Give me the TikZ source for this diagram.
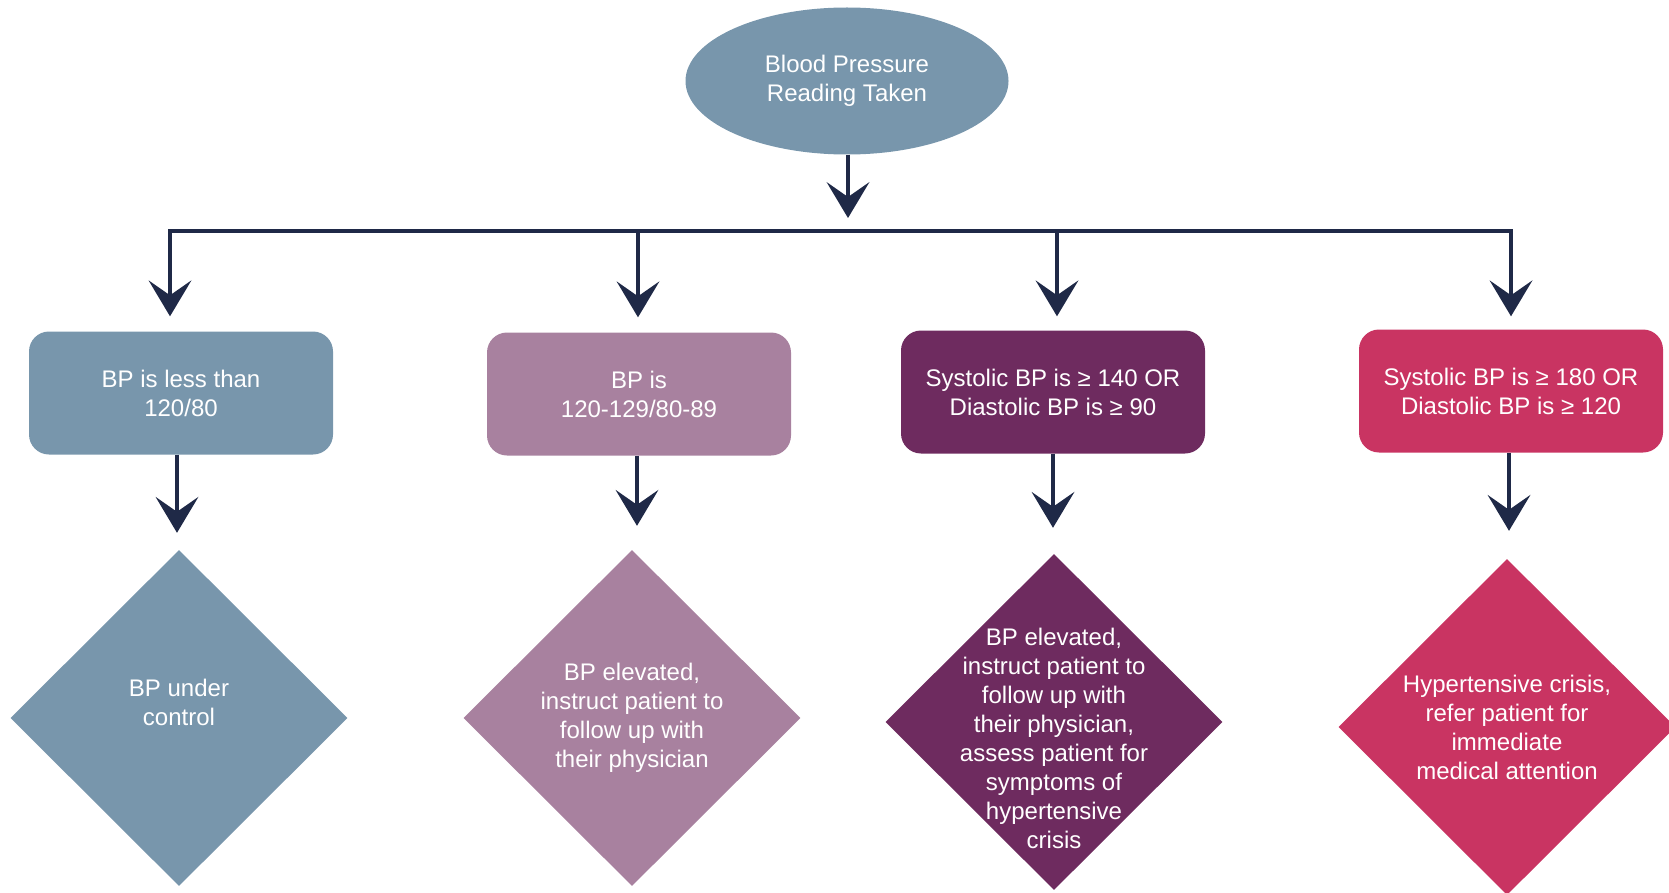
\documentclass[tikz,border=0pt]{standalone}
\usepackage{fontspec}
\setmainfont{Liberation Sans}
\usepackage{tikz}
\usetikzlibrary{arrows.meta}
\usetikzlibrary{positioning}
\usetikzlibrary{shapes.geometric}
\definecolor{bpblue}{HTML}{7896AC}
\definecolor{bpmauve}{HTML}{A8819F}
\definecolor{bpplum}{HTML}{6E2B5F}
\definecolor{bpred}{HTML}{C93462}
\definecolor{bpline}{HTML}{1F2947}

\begin{document}
\begin{tikzpicture}[x=1pt,y=-1pt,
	txt/.style={text=white,font=\fontsize{24}{29}\selectfont,align=center},
	box/.style={txt,rounded corners=20pt,minimum width=304pt,minimum height=123pt,inner sep=0pt},
	dia/.style={diamond,minimum width=337pt,minimum height=336pt,inner sep=0pt},
	wire/.style={line width=4pt,draw=bpline,line cap=rect},
	flow/.style={line width=4pt,draw=bpline,-{Stealth[length=36pt,width=43pt,inset=15pt,line width=0pt]}},
	]
	\useasboundingbox (0,0) rectangle (1669,893);
	
	% start
	\node[ellipse,fill=bpblue,minimum width=323pt,minimum height=147pt,txt] (read) at (847,81) {Blood Pressure\\Reading Taken};
	
	% ranges
	\node[box,fill=bpblue] (low) at (181,393) {BP is less than\\120/80};
	\node[box,fill=bpmauve] (elev) at (639,394) {BP is\\120-129/80-89};
	\node[box,fill=bpplum] (high) at (1053,392) {Systolic BP is ≥ 140 OR\\Diastolic BP is ≥ 90};
	\node[box,fill=bpred] (crit) at (1511,391) {Systolic BP is ≥ 180 OR\\Diastolic BP is ≥ 120};
	
	% outcomes
	\node[dia,fill=bpblue] (ok) at (179,718) {};
	\node[dia,fill=bpmauve] (follow) at (632,718) {};
	\node[dia,fill=bpplum] (assess) at (1054,722) {};
	\node[dia,fill=bpred] (refer) at (1507,727) {};
	\node[txt,yshift=16pt] (oktext) at (ok) {BP under\\control};
	\node[txt] (followtext) at (follow) {BP elevated,\\instruct patient to\\follow up with\\their physician};
	\node[txt,yshift=-16pt] (assesstext) at (assess) {BP elevated,\\instruct patient to\\follow up with\\their physician,\\assess patient for\\symptoms of\\hypertensive\\crisis};
	\node[txt] (refertext) at (refer) {Hypertensive crisis,\\refer patient for\\immediate\\medical attention};
	
	% bar
	\coordinate (bar) at (848,231);
	\coordinate (j1) at (170,231);
	\coordinate (j2) at (638,231);
	\coordinate (j3) at (1057,231);
	\coordinate (j4) at (1511,231);
	\draw[flow,shorten >=13pt] (read.south -| bar) -- (bar);
	\draw[wire] (j1) -- (j4);
	\draw[flow,shorten >=15pt] (j1) -- (j1 |- low.north);
	\draw[flow,shorten >=15pt] (j2) -- (j2 |- elev.north);
	\draw[flow,shorten >=14pt] (j3) -- (j3 |- high.north);
	\draw[flow,shorten >=13pt] (j4) -- (j4 |- crit.north);
	
	\draw[flow,shorten >=17pt] ([xshift=-4pt]low.south) -- ([xshift=-4pt]low.south |- ok.north);
	\draw[flow,shorten >=24pt] ([xshift=-2pt]elev.south) -- ([xshift=-2pt]elev.south |- follow.north);
	\draw[flow,shorten >=26pt] (high.south) -- (high.south |- assess.north);
	\draw[flow,shorten >=28pt] ([xshift=-2pt]crit.south) -- ([xshift=-2pt]crit.south |- refer.north);
\end{tikzpicture}
\end{document}
